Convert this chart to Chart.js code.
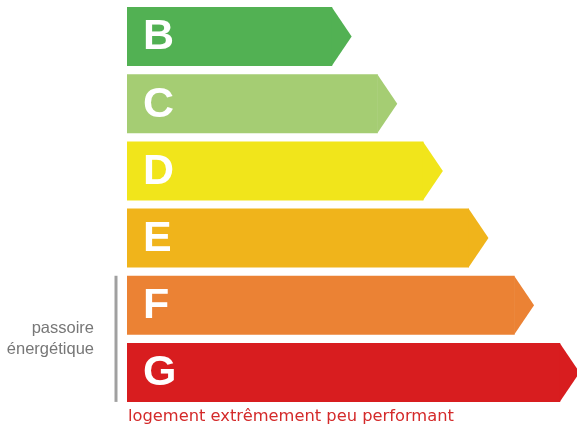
<!DOCTYPE html>
<html>
<head>
<meta charset="utf-8">
<script src="https://cdn.jsdelivr.net/npm/chart.js@4"></script>
<style>
  html, body { margin: 0; padding: 0; background: #fff; overflow: hidden; }
  #wrap { width: 583px; height: 424px; }
</style>
</head>
<body>
<div id="wrap"><canvas id="chart"></canvas></div>
<script>
// energy classes, shortest bar at the top
const classes = ['B', 'C', 'D', 'E', 'F', 'G'];
const lengths = [4.5, 5.5, 6.5, 7.5, 8.5, 9.5];
const colours = ['#52b153', '#a5cd73', '#f1e51b', '#f0b41b', '#eb8234', '#d81d1f'];
const sideLabel = ['passoire', 'énergétique'];
const footLabel = 'logement extrêmement peu performant';

// arrow tips + letters + the side / bottom notes
const labelPlugin = {
    id: 'labels',
    afterDatasetsDraw(chart) {
        const ctx = chart.ctx;
        const bars = chart.getDatasetMeta(0).data;
        ctx.save();
        bars.forEach((bar, i) => {
            const top = bar.y - bar.height / 2;
            const bottom = bar.y + bar.height / 2;
            const tip = bar.height * 0.33;
            ctx.fillStyle = colours[i];
            ctx.beginPath();
            ctx.moveTo(bar.x - 0.5, top);
            ctx.lineTo(bar.x + tip, bar.y);
            ctx.lineTo(bar.x - 0.5, bottom);
            ctx.closePath();
            ctx.fill();

            ctx.fillStyle = '#fff';
            ctx.font = 'bold 43px "Liberation Sans", Arial, sans-serif';
            ctx.textAlign = 'left';
            ctx.textBaseline = 'middle';
            ctx.fillText(classes[i], bar.base + 16, bar.y + 1);
        });

        // passoire énergétique bracket (F and G)
        const f = bars[4], g = bars[5];
        ctx.strokeStyle = '#a0a0a0';
        ctx.lineWidth = 3;
        ctx.beginPath();
        ctx.moveTo(116, f.y - f.height / 2);
        ctx.lineTo(116, g.y + g.height / 2);
        ctx.stroke();

        ctx.fillStyle = '#777';
        ctx.font = '16.5px "Liberation Sans", Arial, sans-serif';
        ctx.textAlign = 'right';
        ctx.textBaseline = 'middle';
        ctx.fillText(sideLabel[0], 94, 328);
        ctx.fillText(sideLabel[1], 94, 349);

        ctx.fillStyle = '#d42a2a';
        ctx.font = '16.3px "DejaVu Sans", Verdana, sans-serif';
        ctx.textAlign = 'left';
        ctx.fillText(footLabel, chart.chartArea.left + 1, 417);
        ctx.restore();
    }
};

const ctx = document.querySelector('#chart').getContext('2d');
const chart = new Chart(ctx, {
    type: 'bar',
    data: {
        labels: classes,
        datasets: [{
            data: lengths,
            backgroundColor: colours,
            borderWidth: 0,
            barPercentage: 0.878,
            categoryPercentage: 1
        }]
    },
    options: {
        indexAxis: 'y',
        responsive: true,
        maintainAspectRatio: false,
        animation: false,
        layout: {
            padding: { left: 127, right: 0, top: 3, bottom: 18 }
        },
        scales: {
            x: { display: false, min: 0, max: 10 },
            y: { display: false }
        },
        plugins: {
            legend: { display: false },
            tooltip: { enabled: false }
        }
    },
    plugins: [labelPlugin]
});
</script>
</body>
</html>
